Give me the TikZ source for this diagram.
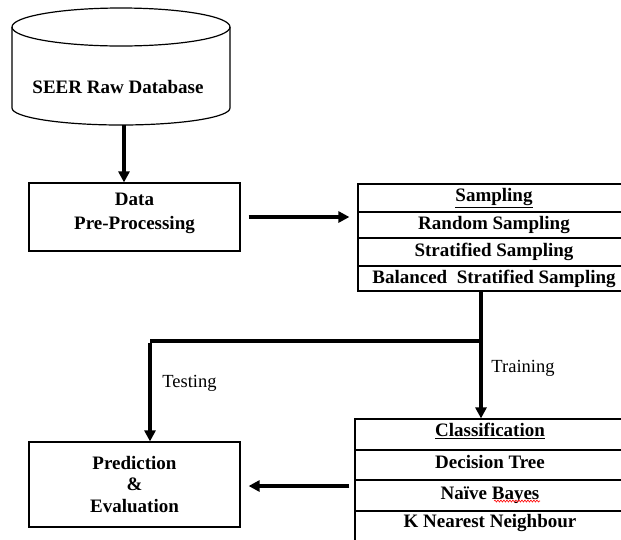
\documentclass[tikz,border=0pt]{standalone}
\usepackage{fontspec}
\setmainfont{Liberation Serif}
\usetikzlibrary{arrows.meta,decorations.pathmorphing}
\tikzset{
  box/.style={draw=black, line width=1.2pt, inner sep=0pt, align=center, font=\bfseries\fontsize{19}{24}\selectfont},
  rowbox/.style={draw=black, line width=1.2pt, inner sep=0pt, font=\bfseries\fontsize{19}{22}\selectfont},
  txt/.style={inner sep=0pt, align=center, font=\bfseries\fontsize{19}{24}\selectfont},
  flow/.style={line width=3.2pt, -{Triangle[length=11pt,width=11pt]}},
  lbl/.style={font=\fontsize{18.5}{22}\selectfont, inner sep=0pt}
}
\begin{document}
\begin{tikzpicture}[x=1pt,y=-1pt]
\useasboundingbox (0,0) rectangle (621,539);
% cylinder
\draw[line width=1.2pt] (12,27) -- (12,108) arc[start angle=180, end angle=0, x radius=109, y radius=17] -- (230,27);
\draw[line width=1.2pt] (121,27) ellipse[x radius=109, y radius=19];
\node[inner sep=0pt, minimum width=218, minimum height=117] (db) at (121,66.5) {};
\node[txt] (dbtxt) at (118,87) {SEER Raw Database};
% data pre-processing
\node[box, minimum width=211, minimum height=68] (data) at (134.5,217) {};
\node[txt] (datatxt) at (134.5,213) {Data\\Pre-Processing};
% sampling table
\node[rowbox, minimum width=272, minimum height=28] (s0) at (494,198) {\underline{Sampling}};
\node[rowbox, minimum width=272, minimum height=26] (s1) at (494,225) {Random Sampling};
\node[rowbox, minimum width=272, minimum height=28] (s2) at (494,252) {Stratified Sampling};
\node[rowbox, minimum width=272, minimum height=25] (s3) at (494,278.5) {Balanced\ \ Stratified Sampling};
% classification table
\node[rowbox, minimum width=270, minimum height=31] (c0) at (490,434.5) {};
\node[txt] (c0txt) at (490,431) {\underline{Classification}};
\node[rowbox, minimum width=270, minimum height=30] (c1) at (490,465) {};
\node[txt] (c1txt) at (490,462) {Decision Tree};
\node[rowbox, minimum width=270, minimum height=31] (c2) at (490,495.5) {Naïve Bayes};
\node[rowbox, minimum width=270, minimum height=34] (c3) at (490,528) {};
\node[txt] (c3txt) at (490,523) {K Nearest Neighbour};
\draw[red, line width=0.6pt, decorate, decoration={snake, amplitude=1pt, segment length=3pt}] (494,501) -- (540,501);
% prediction
\node[box, minimum width=211, minimum height=85, font=\bfseries\fontsize{19}{21.5}\selectfont] (pred) at (134.5,484.5) {Prediction\\\&\\Evaluation};
% connectors
\coordinate (split) at (481,341);
\coordinate (tcorner) at (150,341);
\draw[flow] ([xshift=3pt]db.south) -- ([xshift=3pt]db.south |- data.north);
\draw[flow, shorten <=8pt, shorten >=8pt] (data.east) -- (data.east -| s1.west);
\draw[flow] (split |- s3.south) -- (split |- c0.north);
\draw[line width=3.2pt] (split) -- (tcorner);
\draw[flow] ([yshift=-1.6pt]tcorner) -- (tcorner |- pred.north);
\draw[flow, shorten <=5pt, shorten >=8pt] ([yshift=-1.5pt]pred.east -| c2.west) -- ([yshift=-1.5pt]pred.east);
% labels
\node[lbl] (train) at (523,368) {Training};
\node[lbl] (test) at (189.5,383) {Testing};
\end{tikzpicture}
\end{document}
